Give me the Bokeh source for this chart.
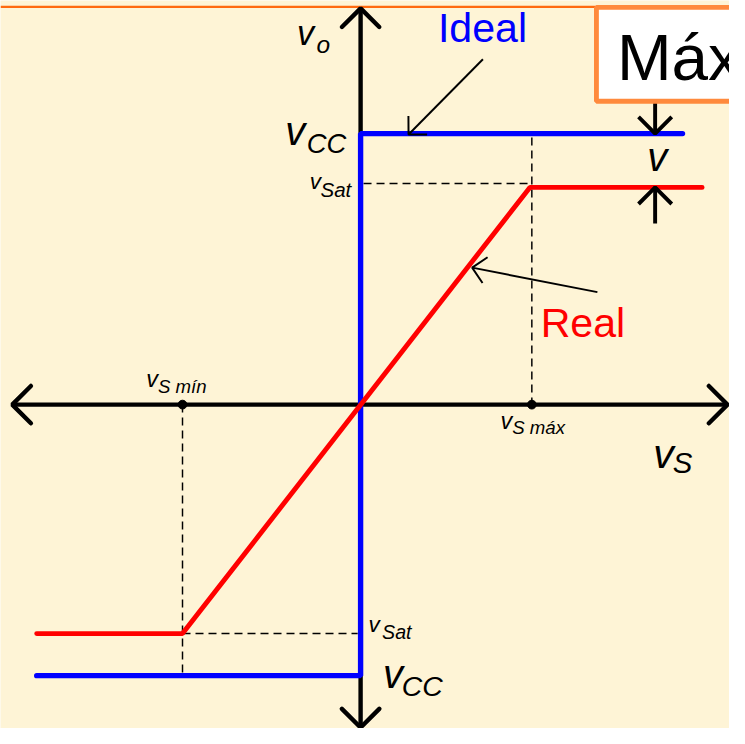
import math
from bokeh.plotting import figure
from bokeh.models import Range1d
from bokeh.core.properties import value
from bokeh.embed import file_html
from bokeh.resources import INLINE

# ---- data (units: reference pixels from the origin, y up) ----
vcc_pos = 277
vcc_neg = -277
vsat_pos = 222
vsat_neg = -234
vsat_guide_pos = 226
vs_max = 175
vs_min = -182

ideal_x = [-331, 0, 0, 329]
ideal_y = [vcc_neg, vcc_neg, vcc_pos, vcc_pos]
real_x = [-331, vs_min, 173, 349]
real_y = [vsat_neg, vsat_neg, vsat_pos, vsat_pos]

xaxis_ends = [-356, 375]
yaxis_ends = [-330, 405]

guide_top_h_x = [3, 173]
guide_top_v_y = [273, 0]
guide_bot_h_x = [vs_min, -3]
guide_bot_v_y = [0, vcc_neg]

ideal_arrow = [(125, 353), (49, 276)]
real_arrow = [(242, 115), (114, 140)]
delta_x = 301
delta_down = [310, vcc_pos]
delta_up = [185, vsat_pos]

BG = "#FEF4D6"
W, H = 729, 728
S = W / 745.0
BASE_SHIFT = 0.33  # compensation of the renderer's baseline offset

p = figure(width=W, height=H, output_backend="svg", toolbar_location=None,
           x_range=Range1d(-368, 377), y_range=Range1d(-331, 413),
           min_border=0, background_fill_color=BG, border_fill_color=BG)
p.axis.visible = False
p.grid.visible = False
p.outline_line_color = None


def head(tip, frm, L):
    ang = math.atan2(frm[1] - tip[1], frm[0] - tip[0])
    a1, a2 = ang + math.pi / 4, ang - math.pi / 4
    xs = [tip[0] + L * math.cos(a1), tip[0], tip[0] + L * math.cos(a2)]
    ys = [tip[1] + L * math.sin(a1), tip[1], tip[1] + L * math.sin(a2)]
    return xs, ys


# top orange rule
p.line([-368, 377], [406.5, 406.5], line_color="#FF6A10", line_width=2.5 * S)

# dashed guides
dash = dict(line_color="black", line_width=1.5 * S, line_dash="8 5")
p.line(guide_top_h_x, [vsat_guide_pos, vsat_guide_pos], **dash)
p.line([vs_max, vs_max], guide_top_v_y, **dash)
p.line(guide_bot_h_x, [vsat_neg, vsat_neg], **dash)
p.line([vs_min, vs_min], guide_bot_v_y, **dash)

# axes
ax = dict(line_color="black", line_width=4.5 * S)
p.line(xaxis_ends, [0, 0], **ax)
p.line([0, 0], yaxis_ends, **ax)
hx, hy = [], []
for tip, frm in [((xaxis_ends[1], 0), (0, 0)), ((xaxis_ends[0], 0), (0, 0)),
                 ((0, yaxis_ends[1]), (0, 0)), ((0, yaxis_ends[0]), (0, 0))]:
    a, b = head(tip, frm, 27)
    hx.append(a); hy.append(b)
p.multi_line(hx, hy, line_color="black", line_width=4.5 * S, line_cap="round")

# ideal & real
p.line(ideal_x, ideal_y, line_color="#0000FF", line_width=5.5 * S, line_cap="round")
p.line(real_x, real_y, line_color="#FF0000", line_width=5 * S, line_cap="round")

# points on the axis
p.scatter([vs_min, vs_max], [0, 0], size=9 * S, color="black")

# annotation arrows
for frm, tip in [ideal_arrow, real_arrow]:
    p.line([frm[0], tip[0]], [frm[1], tip[1]], line_color="black", line_width=2 * S)
    a, b = head(tip, frm, 19)
    p.line(a, b, line_color="black", line_width=2 * S)

# delta v arrows
dx, dy = [], []
for seg in [delta_down, delta_up]:
    dx.append([delta_x, delta_x]); dy.append(seg)
    a, b = head((delta_x, seg[1]), (delta_x, seg[0]), 24)
    dx.append(a); dy.append(b)
p.multi_line(dx, dy, line_color="black", line_width=4 * S)

# Máx box
p.quad(left=[241], right=[400], top=[406], bottom=[310], fill_color="white",
       line_color="#FF8A3D", line_width=5 * S)

FONT = value("Liberation Sans")


def txt(x, y, s, size, color="black", italic=False):
    p.text([x], [y + BASE_SHIFT * size], text=[s], text_font=FONT,
           text_font_size=f"{size * S:.1f}px",
           text_font_style="italic" if italic else "normal", text_color=color,
           text_baseline="alphabetic", text_align="left")


txt(262, 333, "Máx", 67)
txt(79, 371, "Ideal", 42, "#0000FF")
txt(184, 70, "Real", 42, "#FF0000")

# math labels
txt(-65, 368, "v", 35, italic=True); txt(-45, 360, "o", 25, italic=True)
txt(-77, 266, "v", 41, italic=True); txt(-55, 258, "CC", 28, italic=True)
txt(-52, 220, "v", 23, italic=True); txt(-41, 213, "Sat", 21, italic=True)
txt(8, -232, "v", 23, italic=True); txt(22, -239, "Sat", 20, italic=True)
txt(23, -289, "v", 41, italic=True); txt(42, -297, "CC", 29, italic=True)
txt(-219, 18, "v", 24, italic=True); txt(-207, 12, "S mín", 19, italic=True)
txt(143, -25, "v", 24, italic=True); txt(155, -30, "S máx", 19, italic=True)
txt(299, -64, "v", 42, italic=True); txt(319, -69, "S", 30, italic=True)
txt(293, 240, "v", 41, italic=True)

open("out.html", "w").write(file_html(p, INLINE))
